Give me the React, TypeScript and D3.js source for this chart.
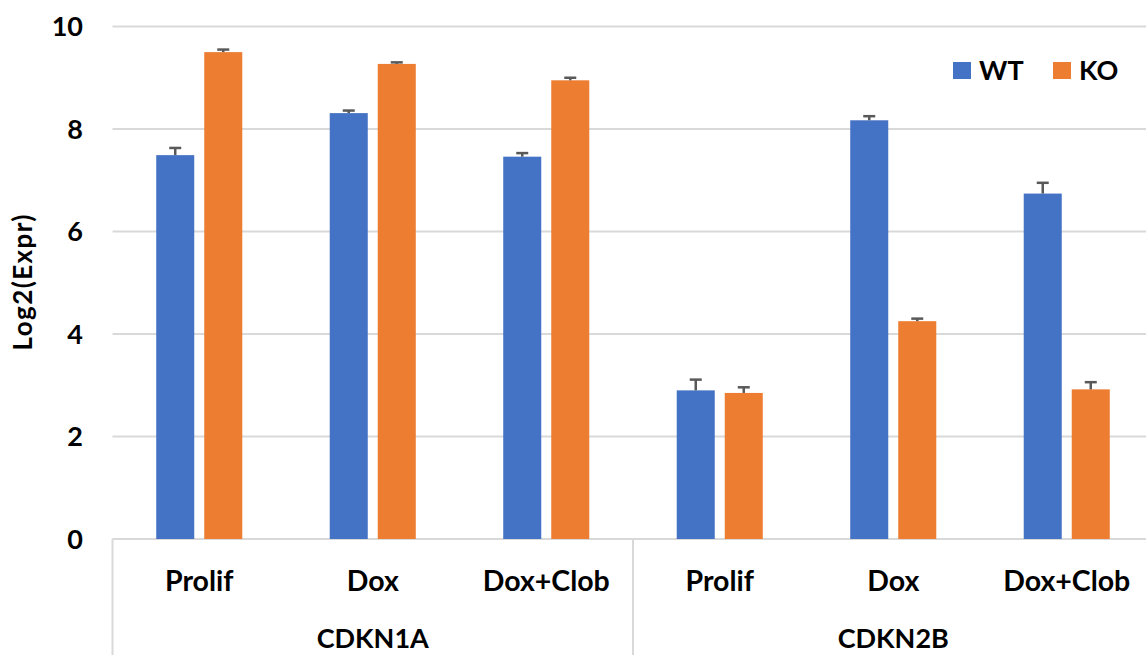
import React from "react";
import * as d3 from "d3";

const groups = ["CDKN1A", "CDKN2B"];
const conditions = ["Prolif", "Dox", "Dox+Clob"];
const series = ["WT", "KO"];
const wtValues = [7.49, 8.31, 7.46, 2.9, 8.17, 6.74];
const koValues = [9.5, 9.27, 8.95, 2.85, 4.25, 2.92];
const wtErrors = [0.14, 0.05, 0.07, 0.21, 0.08, 0.21];
const koErrors = [0.05, 0.03, 0.05, 0.11, 0.05, 0.14];
const yTicks = [0, 2, 4, 6, 8, 10];

const colors: Record<string, string> = { WT: "#4472C4", KO: "#ED7D31" };
const W = 1146;
const H = 655;
const FONT = "Lato, 'Open Sans', sans-serif";

export default function App() {
  const cats = groups.flatMap((g) => conditions.map((c) => `${g}|${c}`));
  const x0 = d3
    .scaleBand<string>()
    .domain(cats)
    .range([112.5, 1153.5])
    .paddingInner(0.504)
    .paddingOuter(0.252);
  const x1 = d3
    .scaleBand<string>()
    .domain(series)
    .range([0, x0.bandwidth()])
    .paddingInner(0.208)
    .paddingOuter(0);
  const y = d3.scaleLinear().domain([0, 10]).range([539, 26.5]);

  const values: Record<string, number[]> = { WT: wtValues, KO: koValues };
  const errors: Record<string, number[]> = { WT: wtErrors, KO: koErrors };

  const left = 112.5;
  const groupEdges = [112.5, 633, 1153.5];

  return (
    <svg
      width={W}
      height={H}
      style={{ position: "absolute", left: 0, top: 0, background: "#fff" }}
      fontFamily={FONT}
    >
      {/* gridlines */}
      {yTicks.map((t) => (
        <line
          key={t}
          x1={left}
          x2={W}
          y1={y(t)}
          y2={y(t)}
          stroke="#d9d9d9"
          strokeWidth={2}
        />
      ))}
      {/* group separators */}
      {groupEdges.map((xe, i) => (
        <line
          key={i}
          x1={xe}
          x2={xe}
          y1={y(0)}
          y2={H}
          stroke="#d9d9d9"
          strokeWidth={2}
        />
      ))}
      {/* y tick labels */}
      {yTicks.map((t) => (
        <text
          key={t}
          x={83}
          y={y(t)}
          dy="0.36em"
          textAnchor="end"
          fontSize={27}
          fontWeight={700}
          fill="#000"
        >
          {t}
        </text>
      ))}
      {/* y title */}
      <text
        transform={`translate(32,282.5) rotate(-90)`}
        textAnchor="middle"
        fontSize={26}
        fontWeight={700}
        fill="#000"
        textLength={136}
        lengthAdjust="spacing"
      >
        Log2(Expr)
      </text>
      {/* bars */}
      {cats.map((c, i) =>
        series.map((s) => {
          const v = values[s][i];
          const e = errors[s][i];
          const bx = (x0(c) ?? 0) + (x1(s) ?? 0);
          const bw = x1.bandwidth();
          const cx = bx + bw / 2;
          return (
            <g key={c + s}>
              <rect
                x={bx}
                y={y(v)}
                width={bw}
                height={y(0) - y(v)}
                fill={colors[s]}
              />
              <line
                x1={cx}
                x2={cx}
                y1={y(v)}
                y2={y(v + e)}
                stroke="#595959"
                strokeWidth={2.5}
              />
              <line
                x1={cx - 6}
                x2={cx + 6}
                y1={y(v + e)}
                y2={y(v + e)}
                stroke="#595959"
                strokeWidth={2.5}
              />
            </g>
          );
        })
      )}
      {/* category labels */}
      {cats.map((c) => (
        <text
          key={c}
          x={(x0(c) ?? 0) + x0.bandwidth() / 2}
          y={591}
          textAnchor="middle"
          fontSize={28.5}
          fontWeight={700}
          fill="#000"
        >
          {c.split("|")[1]}
        </text>
      ))}
      {groups.map((g, i) => (
        <text
          key={g}
          x={(groupEdges[i] + groupEdges[i + 1]) / 2}
          y={648}
          textAnchor="middle"
          fontSize={27}
          fontWeight={700}
          fill="#000"
        >
          {g}
        </text>
      ))}
      {/* legend */}
      {series.map((s, i) => (
        <g key={s} transform={`translate(${953 + i * 100},62)`}>
          <rect width={18} height={17} fill={colors[s]} />
          <text x={26} y={18} fontSize={27} fontWeight={700} fill="#000">
            {s}
          </text>
        </g>
      ))}
    </svg>
  );
}
